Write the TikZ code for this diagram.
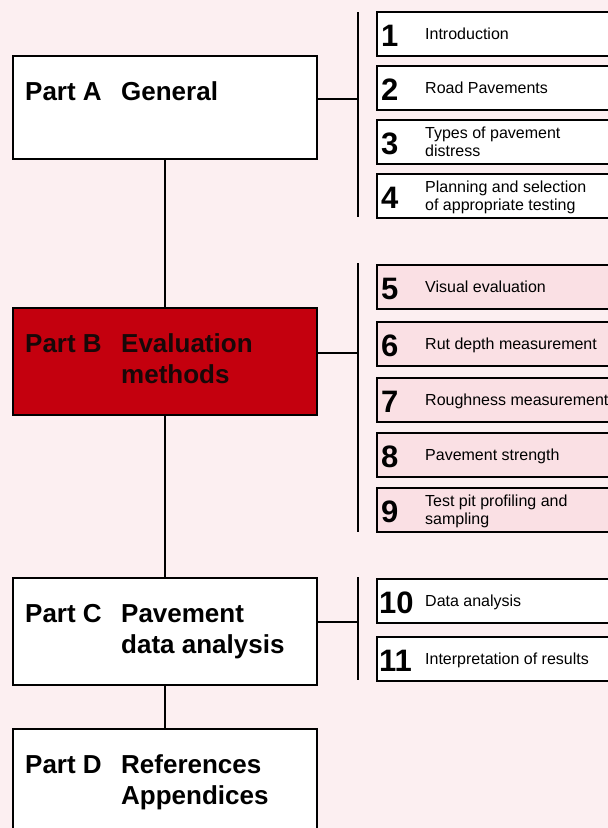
\documentclass[tikz,border=0pt]{standalone}
\usepackage{fontspec}
\setmainfont{Liberation Sans}
\usetikzlibrary{positioning}
\definecolor{bgpink}{RGB}{252,239,241}
\definecolor{boxpink}{RGB}{250,224,228}
\definecolor{partred}{RGB}{196,0,14}
\definecolor{darktext}{RGB}{24,8,8}
\newcommand{\parttitle}[2]{\begin{tabular}[t]{@{}p{96pt}@{}l@{}}#1 & #2\end{tabular}}

\tikzset{
  part/.style={draw=black, line width=1.8pt, fill=white, anchor=north west,
    minimum width=304pt, inner sep=0pt},
  ptitle/.style={anchor=base west, inner sep=0pt,
    font=\fontsize{26}{31}\selectfont\bfseries},
  chap/.style={draw=black, line width=1.6pt, fill=white, anchor=north west,
    minimum width=270pt, minimum height=44pt, inner sep=0pt},
  chnum/.style={inner sep=0pt, font=\fontsize{31}{31}\selectfont\bfseries, yshift=-2pt},
  chtext/.style={inner sep=0pt, font=\fontsize{16}{18}\selectfont, yshift=-2pt},
  link/.style={line width=1.3pt},
}

\begin{document}
\begin{tikzpicture}[x=1pt,y=-1pt]
  \useasboundingbox (0,0) rectangle (608,828);
  \clip (0,0) rectangle (608,828);
  \fill[bgpink] (0,0) rectangle (608,828);

  % parts
  \node[part, minimum height=103pt] (pA) at (12,55) {};
  \node[part, minimum height=107pt, fill=partred] (pB) at (12,307) {};
  \node[part, minimum height=107pt] (pC) at (12,577) {};
  \node[part, minimum height=140pt] (pD) at (12,728) {};
  \node[ptitle] (tA) at (25,100) {\parttitle{Part A}{General}};
  \node[ptitle, text=darktext] (tB) at (25,352) {\parttitle{Part B}{Evaluation\\ & methods}};
  \node[ptitle] (tC) at (25,622) {\parttitle{Part C}{Pavement\\ & data analysis}};
  \node[ptitle] (tD) at (25,773) {\parttitle{Part D}{References\\ & Appendices}};
  \draw[link] (pA.south) -- (pB.north);
  \draw[link] (pB.south) -- (pC.north);
  \draw[link] (pC.south) -- (pD.north);

  % chapters
  \foreach \k/\y/\txt in {1/11/Introduction, 2/65/Road Pavements,
      3/119/{Types of pavement\\distress}, 4/173/{Planning and selection\\of appropriate testing}}{
    \node[chap] (c\k) at (376,\y) {};
    \node[chnum, right=5pt of c\k.west] {\k};
    \node[chtext, right=49pt of c\k.west] {\begin{tabular}{@{}l@{}}\txt\end{tabular}};
  }
  \foreach \k/\y/\txt in {5/264/Visual evaluation, 6/321/Rut depth measurement,
      7/377/Roughness measurement, 8/432/Pavement strength,
      9/487/{Test pit profiling and\\sampling}}{
    \node[chap, fill=boxpink] (c\k) at (376,\y) {};
    \node[chnum, right=5pt of c\k.west] {\k};
    \node[chtext, right=49pt of c\k.west] {\begin{tabular}{@{}l@{}}\txt\end{tabular}};
  }
  \foreach \k/\y/\txt in {10/578/Data analysis, 11/636/Interpretation of results}{
    \node[chap] (c\k) at (376,\y) {};
    \node[chnum, right=3pt of c\k.west] {\k};
    \node[chtext, right=49pt of c\k.west] {\begin{tabular}{@{}l@{}}\txt\end{tabular}};
  }

  % bars and joins
  \coordinate (a1) at (358,12);  \coordinate (a2) at (358,217);
  \coordinate (b1) at (358,263); \coordinate (b2) at (358,532);
  \coordinate (d1) at (358,577); \coordinate (d2) at (358,680);
  \coordinate (jA) at (358,99);
  \coordinate (jB) at (358,353);
  \coordinate (jC) at (358,622);
  \draw[link] (a1) -- (a2);
  \draw[link] (b1) -- (b2);
  \draw[link] (d1) -- (d2);
  \draw[link] (jA -| pA.east) -- (jA);
  \draw[link] (jB -| pB.east) -- (jB);
  \draw[link] (jC -| pC.east) -- (jC);
\end{tikzpicture}
\end{document}
